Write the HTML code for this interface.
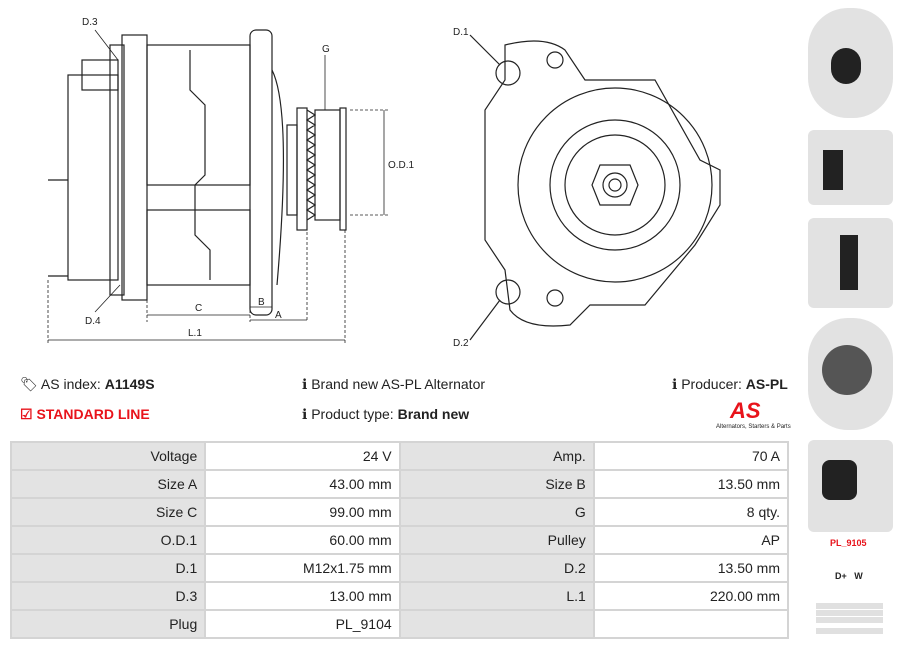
<!DOCTYPE html>
<html><head><meta charset="utf-8"><style>
body{margin:0;width:899px;height:648px;background:#fff;font-family:"Liberation Sans",sans-serif;position:relative;overflow:hidden;color:#222}
.t{position:absolute;font-size:14px;white-space:nowrap}
table{position:absolute;left:10px;top:441px;border-collapse:collapse;width:779px;font-size:14px}
td{height:26px;border:2px solid #d4d4d4;text-align:right;padding:0 7px;width:180px}
td.l{background:#e3e3e3}
.ph{position:absolute;left:808px;width:85px;background:#e2e2e2;border-radius:6px}
.dk{position:absolute;background:#222}
</style></head><body>
<svg width="800" height="350" style="position:absolute;left:0;top:0" stroke="#222" fill="none" stroke-width="1.2" font-family="Liberation Sans" font-size="10">
<rect x="68" y="75" width="50" height="205"/><rect x="82" y="60" width="36" height="30"/>
<rect x="122" y="35" width="25" height="265"/><rect x="110" y="45" width="14" height="250"/>
<rect x="147" y="45" width="103" height="140"/><rect x="147" y="210" width="103" height="75"/>
<path d="M190 50v40l15 15v70l-10 10v50l15 15v30"/>
<rect x="250" y="30" width="22" height="285" rx="6"/>
<path d="M272 70q20 40 5 215"/>
<rect x="287" y="125" width="10" height="90"/><rect x="297" y="108" width="10" height="122"/>
<path d="M307 110l8 5-8 5 8 5-8 5 8 5-8 5 8 5-8 5 8 5-8 5 8 5-8 5 8 5-8 5 8 5-8 5 8 5-8 5 8 5-8 5 8 5-8 5"/>
<rect x="315" y="110" width="25" height="110"/><rect x="340" y="108" width="6" height="122"/>
<line x1="48" y1="180" x2="68" y2="180"/><line x1="48" y1="276" x2="68" y2="276"/>
<g stroke-width="0.8" stroke-dasharray="3 2"><line x1="48" y1="280" x2="48" y2="345"/><line x1="345" y1="230" x2="345" y2="345"/><line x1="147" y1="290" x2="147" y2="322"/><line x1="250" y1="300" x2="250" y2="322"/><line x1="272" y1="300" x2="272" y2="310"/><line x1="307" y1="232" x2="307" y2="322"/><line x1="350" y1="110" x2="390" y2="110"/><line x1="350" y1="215" x2="390" y2="215"/></g>
<g stroke-width="0.8"><line x1="48" y1="340" x2="345" y2="340"/><line x1="147" y1="315" x2="250" y2="315"/><line x1="250" y1="307" x2="272" y2="307"/><line x1="250" y1="320" x2="307" y2="320"/><line x1="384" y1="110" x2="384" y2="215"/><line x1="325" y1="55" x2="325" y2="110"/><line x1="95" y1="30" x2="118" y2="60"/><line x1="95" y1="312" x2="120" y2="285"/></g>
<g fill="#222" stroke="none"><text x="82" y="25">D.3</text><text x="322" y="52">G</text><text x="388" y="168">O.D.1</text><text x="85" y="324">D.4</text><text x="195" y="311">C</text><text x="258" y="305">B</text><text x="275" y="318">A</text><text x="188" y="336">L.1</text><text x="453" y="35">D.1</text><text x="453" y="346">D.2</text></g>
<path d="M505 45q40-10 60 5l20 30h70l45 80 20 10v35l-25 40-50 60h-55l-20 20q-45 5-60-15l-5-40-20-30v-130l20-30z"/>
<circle cx="508" cy="73" r="12"/><circle cx="508" cy="292" r="12"/><circle cx="555" cy="60" r="8"/><circle cx="555" cy="298" r="8"/>
<circle cx="615" cy="185" r="97"/><circle cx="615" cy="185" r="65"/><circle cx="615" cy="185" r="50"/>
<path d="M600 165h30l8 20-8 20h-30l-8-20z"/><circle cx="615" cy="185" r="12"/><circle cx="615" cy="185" r="6"/>
<line x1="470" y1="35" x2="500" y2="65"/><line x1="470" y1="340" x2="500" y2="300"/>
</svg>
<div class="t" style="left:20px;top:376px">🏷 AS index: <b>A1149S</b></div>
<div class="t" style="left:20px;top:406px;color:#e8131b;font-weight:bold">☑ STANDARD LINE</div>
<div class="t" style="left:302px;top:376px">ℹ Brand new AS-PL Alternator</div>
<div class="t" style="left:302px;top:406px">ℹ Product type: <b>Brand new</b></div>
<div class="t" style="left:672px;top:376px">ℹ Producer: <b>AS-PL</b></div>
<div class="t" style="left:730px;top:398px;color:#e8131b;font-weight:bold;font-style:italic;font-size:22px">AS</div>
<div class="t" style="left:716px;top:424px;font-size:6px">Alternators, Starters &amp; Parts</div>
<table>
<tr><td class="l">Voltage</td><td>24 V</td><td class="l">Amp.</td><td>70 A</td></tr>
<tr><td class="l">Size A</td><td>43.00 mm</td><td class="l">Size B</td><td>13.50 mm</td></tr>
<tr><td class="l">Size C</td><td>99.00 mm</td><td class="l">G</td><td>8 qty.</td></tr>
<tr><td class="l">O.D.1</td><td>60.00 mm</td><td class="l">Pulley</td><td>AP</td></tr>
<tr><td class="l">D.1</td><td>M12x1.75 mm</td><td class="l">D.2</td><td>13.50 mm</td></tr>
<tr><td class="l">D.3</td><td>13.00 mm</td><td class="l">L.1</td><td>220.00 mm</td></tr>
<tr><td class="l">Plug</td><td>PL_9104</td><td class="l"></td><td></td></tr>
</table>
<div class="ph" style="top:8px;height:110px;border-radius:40px"></div>
<div class="dk" style="left:831px;top:48px;width:30px;height:36px;border-radius:15px"></div>
<div class="ph" style="top:130px;height:75px"></div>
<div class="dk" style="left:823px;top:150px;width:20px;height:40px"></div>
<div class="ph" style="top:218px;height:90px"></div>
<div class="dk" style="left:840px;top:235px;width:18px;height:55px"></div>
<div class="ph" style="top:318px;height:112px;border-radius:40px"></div>
<div class="dk" style="left:822px;top:345px;width:50px;height:50px;border-radius:25px;background:#555"></div>
<div class="ph" style="top:440px;height:92px"></div>
<div class="dk" style="left:822px;top:460px;width:35px;height:40px;border-radius:8px"></div>
<div class="t" style="left:830px;top:538px;color:#e8131b;font-weight:bold;font-size:9px">PL_9105</div>
<div class="t" style="left:835px;top:571px;font-weight:bold;font-size:9px">D+ &nbsp; W</div>
<div style="position:absolute;left:816px;top:603px;width:67px;height:6px;background:#e0e0e0"></div>
<div style="position:absolute;left:816px;top:610px;width:67px;height:6px;background:#e0e0e0"></div>
<div style="position:absolute;left:816px;top:617px;width:67px;height:6px;background:#e0e0e0"></div>
<div style="position:absolute;left:816px;top:628px;width:67px;height:6px;background:#e0e0e0"></div>
</body></html>
